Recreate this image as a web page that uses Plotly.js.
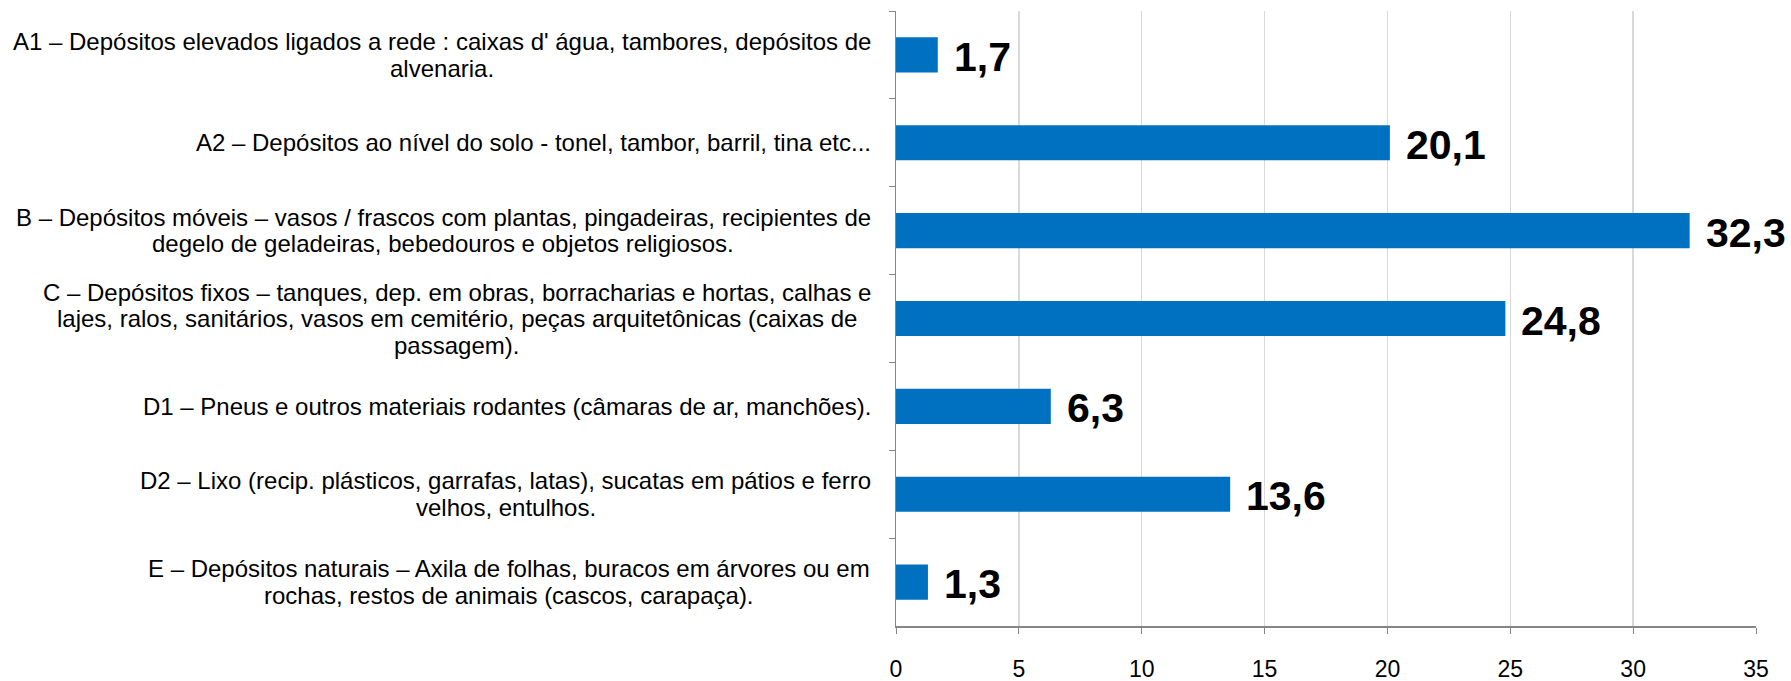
<!DOCTYPE html>
<html>
<head>
<meta charset="utf-8">
<script src="https://cdn.plot.ly/plotly-3.0.1.min.js"></script>
<style>html,body{margin:0;padding:0;background:#fff;}#chart{width:1791px;height:681px;}</style>
</head>
<body>
<div id="chart"></div>
<script>
const categoryKeys = ["A1", "A2", "B", "C", "D1", "D2", "E"];
const categoryLabels = [
  "A1 – Depósitos elevados ligados a rede : caixas d' água, tambores, depósitos de<br>alvenaria.",
  "A2 – Depósitos ao nível do solo - tonel, tambor, barril, tina etc...",
  "B – Depósitos móveis – vasos / frascos com plantas, pingadeiras, recipientes de<br>degelo de geladeiras, bebedouros e objetos religiosos.",
  "C – Depósitos fixos – tanques, dep. em obras, borracharias e hortas, calhas e<br>lajes, ralos, sanitários, vasos em cemitério, peças arquitetônicas (caixas de<br>passagem).",
  "D1 – Pneus e outros materiais rodantes (câmaras de ar, manchões).",
  "D2 – Lixo (recip. plásticos, garrafas, latas), sucatas em pátios e ferro<br>velhos, entulhos.",
  "E – Depósitos naturais – Axila de folhas, buracos em árvores ou em<br>rochas, restos de animais (cascos, carapaça)."
];
const values = [1.7, 20.1, 32.3, 24.8, 6.3, 13.6, 1.3];
const xTickValues = [0, 5, 10, 15, 20, 25, 30, 35];

const fontFamily = "Liberation Sans, Arial, sans-serif";
const labelSize = 24;
const lineGap = 26.5;

const canvas = document.createElement("canvas");
const ctx = canvas.getContext("2d");
ctx.font = labelSize + "px 'Liberation Sans', Arial, sans-serif";

const trace = {
  type: "bar",
  orientation: "h",
  x: values,
  y: categoryKeys,
  marker: {color: "#0070C0", line: {width: 0}},
  hoverinfo: "skip",
  showlegend: false
};

const annotations = [];
categoryKeys.forEach((k, i) => {
  const lines = categoryLabels[i].split("<br>");
  const blockW = Math.max(...lines.map(s => ctx.measureText(s).width));
  const n = lines.length;
  lines.forEach((line, j) => {
    annotations.push({
      xref: "paper", yref: "y", x: 0, y: k,
      xanchor: "center", yanchor: "middle",
      xshift: -(25 + blockW / 2),
      yshift: ((n - 1) / 2 - j) * lineGap,
      text: line, showarrow: false,
      font: {family: fontFamily, size: labelSize, color: "#000"}
    });
  });
  annotations.push({
    xref: "x", yref: "y", x: values[i], y: k,
    xanchor: "left", yanchor: "middle", xshift: 14, yshift: -2,
    text: "<b>" + String(values[i]).replace(".", ",") + "</b>", showarrow: false,
    font: {family: fontFamily, size: 41, color: "#000"}
  });
});

const layout = {
  width: 1791, height: 681,
  margin: {l: 896, r: 35, t: 11, b: 55},
  paper_bgcolor: "#fff", plot_bgcolor: "#fff",
  bargap: 0.6,
  xaxis: {
    range: [0, 35], tickvals: xTickValues, ticktext: xTickValues.map(String),
    showgrid: true, gridcolor: "#D9D9D9", gridwidth: 1.5,
    showline: true, linecolor: "#868686", linewidth: 1.5,
    ticks: "outside", ticklen: 6, tickcolor: "#868686",
    ticklabelstandoff: 16,
    zeroline: false, fixedrange: true,
    tickfont: {family: fontFamily, size: 23, color: "#000"}
  },
  yaxis: {
    type: "category", categoryorder: "array", categoryarray: categoryKeys,
    autorange: "reversed",
    showticklabels: false, showgrid: false,
    showline: true, linecolor: "#868686", linewidth: 1.5,
    ticks: "outside", tickson: "boundaries", ticklen: 6, tickcolor: "#868686",
    zeroline: false, fixedrange: true
  },
  annotations: annotations
};

Plotly.newPlot("chart", [trace], layout, {staticPlot: true, displayModeBar: false});
</script>
</body>
</html>
